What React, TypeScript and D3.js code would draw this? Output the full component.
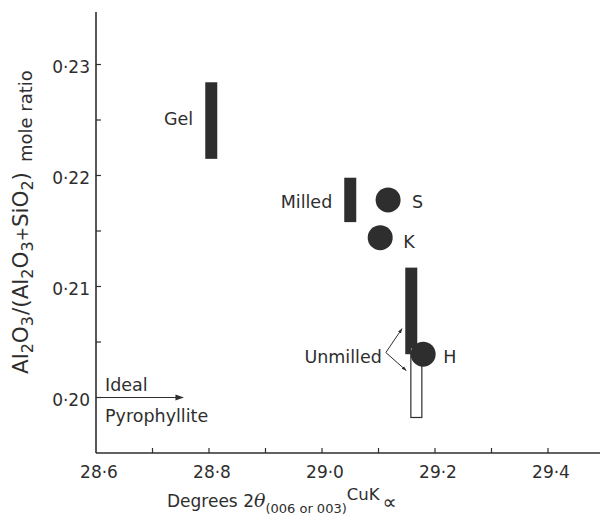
import React from "react";
import * as d3 from "d3";

const barLabels = ["Gel", "Milled", "Unmilled"];
const barX = [28.804, 29.05, 29.158];
const barLow = [0.2215, 0.2158, 0.2039];
const barHigh = [0.2284, 0.2198, 0.2117];

const openBarX = [29.167];
const openBarLow = [0.1982];
const openBarHigh = [0.2045];

const pointLabels = ["S", "K", "H"];
const pointX = [29.117, 29.103, 29.179];
const pointY = [0.2178, 0.2144, 0.2039];

const xTicks = [28.6, 28.7, 28.8, 28.9, 29.0, 29.1, 29.2, 29.3, 29.4];
const xTickLabels = [28.6, 28.8, 29.0, 29.2, 29.4];
const yTicks = [0.2, 0.205, 0.21, 0.215, 0.22, 0.225, 0.23];
const yTickLabels = [0.2, 0.21, 0.22, 0.23];

const idealY = 0.2;
const idealEndX = 28.754;

const W = 607, H = 515;
const INK = "#2e2e2e";
const FONT = "'DejaVu Sans', 'Open Sans', sans-serif";

export default function App() {
  const x = d3.scaleLinear().domain([28.6, 29.4]).range([96, 548]);
  const y = d3.scaleLinear().domain([0.195, 0.23]).range([453, 64.5]);
  const x0 = x(28.6), y0 = y(0.195);
  const fmtY = (v: number) => d3.format(".2f")(v).replace(".", "·");
  const fmtX = (v: number) => d3.format(".1f")(v).replace(".", "·");
  const bw = 12;
  const r = 12.5;

  // Unmilled bracket
  const vtx = { x: 29.113, y: 0.20405 };
  const upEnd = { x: 29.1416, y: 0.2062 };
  const dnEnd = { x: 29.149, y: 0.20243 };

  const labelStyle = { fontFamily: FONT, fontSize: 17.5, fill: INK } as const;
  const ptDx = [24, 23, 20];
  const ptDy = [8, 10, 9];

  return (
    <svg width={W} height={H} style={{ position: "absolute", left: 0, top: 0, background: "#fff" }}>
      <defs>
        <marker id="ah" viewBox="0 0 10 10" refX="9" refY="5" markerWidth="7" markerHeight="7" orient="auto">
          <path d="M0,1.5 L10,5 L0,8.5 z" fill={INK} />
        </marker>
        <marker id="ahs" viewBox="0 0 10 10" refX="9" refY="5" markerWidth="5" markerHeight="5" orient="auto">
          <path d="M0,1.5 L10,5 L0,8.5 z" fill={INK} />
        </marker>
      </defs>
      {/* axes */}
      <line x1={x0} x2={x0} y1={12} y2={y0} stroke={INK} strokeWidth={1.6} />
      <line x1={x0} x2={600} y1={y0} y2={y0} stroke={INK} strokeWidth={1.6} />
      {xTicks.slice(1).map((t) => (
        <line key={t} x1={x(t)} x2={x(t)} y1={y0} y2={y0 - 5} stroke={INK} strokeWidth={1.2} />
      ))}
      {yTicks.map((t) => (
        <line key={t} x1={x0} x2={x0 + 5} y1={y(t)} y2={y(t)} stroke={INK} strokeWidth={1.2} />
      ))}
      {xTickLabels.map((t) => (
        <text key={t} x={x(t) + 3} y={478} textAnchor="middle" fontFamily={FONT} fontSize={17} fill={INK}>
          {fmtX(t)}
        </text>
      ))}
      {yTickLabels.map((t) => (
        <text key={t} x={90} y={y(t) + 8.5} textAnchor="end" fontFamily={FONT} fontSize={17} fill={INK}>
          {fmtY(t)}
        </text>
      ))}

      {/* y title */}
      <text transform={`translate(28,374) rotate(-90)`} textAnchor="start" fontFamily={FONT} fill={INK} fontSize={21.5}>
        <tspan>Al</tspan>
        <tspan fontSize={16} dy={5}>2</tspan>
        <tspan dy={-5}>O</tspan>
        <tspan fontSize={16} dy={5}>3</tspan>
        <tspan dy={-5} dx={1}>/(Al</tspan>
        <tspan fontSize={16} dy={5}>2</tspan>
        <tspan dy={-5}>O</tspan>
        <tspan fontSize={16} dy={5}>3</tspan>
        <tspan dy={-5} fontSize={17}>+</tspan>
        <tspan>SiO</tspan>
        <tspan fontSize={16} dy={5}>2</tspan>
        <tspan dy={-5}>)</tspan>
        <tspan fontSize={18} dx={10} dy={4}>mole ratio</tspan>
      </text>

      {/* x title */}
      <text x={167} y={507} fontFamily={FONT} fill={INK} fontSize={17}>
        <tspan>Degrees 2</tspan>
        <tspan fontFamily="'DejaVu Serif', serif" fontStyle="italic" fontSize={19}>θ</tspan>
        <tspan fontSize={13} dy={6}>(006 or 003)</tspan>
        <tspan fontSize={16.5} dy={-13}>CuK</tspan>
        <tspan fontSize={20} dy={9} dx={3}>∝</tspan>
      </text>

      {/* filled bars */}
      {barLabels.map((lab, i) => (
        <rect key={lab} x={x(barX[i]) - bw / 2} width={bw} y={y(barHigh[i])} height={y(barLow[i]) - y(barHigh[i])} fill={INK} />
      ))}
      {/* open bar */}
      {openBarX.map((v, i) => (
        <rect key={i} x={x(v) - 5.5} width={11} y={y(openBarHigh[i])} height={y(openBarLow[i]) - y(openBarHigh[i])} fill="#fff" stroke={INK} strokeWidth={1.2} />
      ))}
      {/* points */}
      {pointLabels.map((lab, i) => (
        <g key={lab}>
          <circle cx={x(pointX[i])} cy={y(pointY[i])} r={r} fill={INK} />
          <text x={x(pointX[i]) + ptDx[i]} y={y(pointY[i]) + ptDy[i]} {...labelStyle}>{lab}</text>
        </g>
      ))}

      {/* bar labels */}
      <text x={x(barX[0]) - 18} y={(y(barLow[0]) + y(barHigh[0])) / 2 + 4} textAnchor="end" {...labelStyle}>Gel</text>
      <text x={x(barX[1]) - 18} y={(y(barLow[1]) + y(barHigh[1])) / 2 + 8} textAnchor="end" {...labelStyle}>Milled</text>
      <text x={x(vtx.x) - 4} y={y(vtx.y) + 10} textAnchor="end" {...labelStyle}>Unmilled</text>
      <line x1={x(vtx.x)} y1={y(vtx.y)} x2={x(upEnd.x)} y2={y(upEnd.y)} stroke={INK} strokeWidth={1} markerEnd="url(#ahs)" />
      <line x1={x(vtx.x)} y1={y(vtx.y)} x2={x(dnEnd.x)} y2={y(dnEnd.y)} stroke={INK} strokeWidth={1} markerEnd="url(#ahs)" />

      {/* ideal pyrophyllite */}
      <line x1={x0} y1={y(idealY)} x2={x(idealEndX)} y2={y(idealY)} stroke={INK} strokeWidth={1.2} markerEnd="url(#ah)" />
      <text x={105} y={y(idealY) - 7} {...labelStyle}>Ideal</text>
      <text x={105} y={y(idealY) + 24} {...labelStyle}>Pyrophyllite</text>
    </svg>
  );
}
